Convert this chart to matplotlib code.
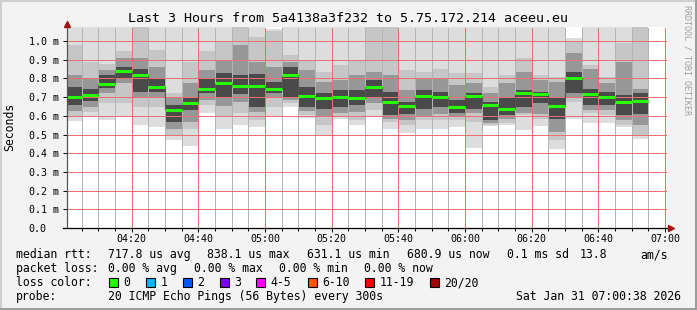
import numpy as np
import matplotlib
matplotlib.use("Agg")
import matplotlib.pyplot as plt
from matplotlib.lines import Line2D
from matplotlib.patches import Rectangle
from matplotlib.ticker import FixedLocator, MultipleLocator

plt.rcParams["lines.scale_dashes"] = False

MONO = "DejaVu Sans Mono"
W, H = 697, 310

# ---- data (ms) -------------------------------------------------------------
# one sample every 300s, minutes after 04:00 (04:00 .. 06:55)
sample_min = np.arange(0, 175, 5)
window = (38 / 60, 180 + 38 / 60)  # 04:00:38 .. 07:00:38

median = [0.700, 0.711, 0.771, 0.838, 0.818, 0.753, 0.631, 0.671, 0.744, 0.773,
          0.759, 0.762, 0.744, 0.818, 0.707, 0.695, 0.700, 0.695, 0.753, 0.673,
          0.655, 0.707, 0.700, 0.646, 0.705, 0.657, 0.639, 0.723, 0.718, 0.653,
          0.804, 0.718, 0.700, 0.673, 0.681]

# smoke bands, outer (1) to inner (4): upper and lower edges
hi1 = [1.10, 1.10, 1.10, 1.10, 1.10, 1.10, 1.10, 1.10, 1.10, 1.10,
       1.10, 1.10, 1.065, 1.10, 1.10, 1.10, 1.10, 1.10, 1.10, 1.10,
       1.10, 1.10, 1.10, 1.10, 1.10, 1.10, 1.10, 1.10, 1.10, 1.10,
       1.015, 1.10, 1.10, 1.10, 1.10]
hi2 = [0.980, 0.890, 0.875, 0.946, 1.090, 0.952, 0.720, 0.889, 0.946, 1.000,
       1.100, 1.020, 1.055, 0.925, 0.898, 0.836, 0.871, 0.898, 1.100, 1.100,
       0.845, 0.836, 0.853, 0.827, 0.827, 0.755, 0.818, 0.907, 0.818, 0.809,
       1.000, 0.871, 0.809, 0.987, 1.100]
hi3 = [0.820, 0.800, 0.845, 0.907, 0.907, 0.862, 0.693, 0.773, 0.845, 0.893,
       0.980, 0.889, 0.862, 0.889, 0.845, 0.782, 0.791, 0.818, 0.836, 0.818,
       0.737, 0.800, 0.800, 0.764, 0.773, 0.720, 0.773, 0.836, 0.791, 0.782,
       0.934, 0.853, 0.773, 0.889, 0.746]
hi4 = [0.755, 0.746, 0.818, 0.862, 0.853, 0.800, 0.657, 0.700, 0.800, 0.830,
       0.820, 0.822, 0.782, 0.862, 0.755, 0.720, 0.737, 0.737, 0.791, 0.728,
       0.675, 0.737, 0.728, 0.684, 0.720, 0.675, 0.700, 0.737, 0.728, 0.693,
       0.836, 0.746, 0.728, 0.710, 0.720]
lo4 = [0.657, 0.678, 0.750, 0.800, 0.728, 0.728, 0.567, 0.630, 0.720, 0.696,
       0.716, 0.648, 0.720, 0.700, 0.648, 0.639, 0.648, 0.657, 0.700, 0.603,
       0.612, 0.639, 0.648, 0.617, 0.639, 0.576, 0.603, 0.648, 0.666, 0.585,
       0.720, 0.657, 0.657, 0.603, 0.612]
lo3 = [0.625, 0.648, 0.720, 0.773, 0.700, 0.700, 0.532, 0.567, 0.684, 0.650,
       0.672, 0.620, 0.700, 0.684, 0.625, 0.594, 0.617, 0.621, 0.666, 0.585,
       0.576, 0.594, 0.612, 0.600, 0.617, 0.564, 0.582, 0.617, 0.612, 0.514,
       0.700, 0.630, 0.630, 0.576, 0.550]
lo2 = [0.594, 0.618, 0.666, 0.666, 0.648, 0.648, 0.492, 0.532, 0.657, 0.598,
       0.615, 0.576, 0.648, 0.670, 0.607, 0.550, 0.600, 0.576, 0.630, 0.567,
       0.550, 0.576, 0.576, 0.576, 0.567, 0.550, 0.564, 0.603, 0.585, 0.469,
       0.675, 0.617, 0.603, 0.550, 0.500]
lo1 = [0.571, 0.594, 0.576, 0.600, 0.553, 0.540, 0.468, 0.440, 0.617, 0.530,
       0.550, 0.540, 0.594, 0.648, 0.589, 0.496, 0.585, 0.550, 0.600, 0.528,
       0.507, 0.528, 0.530, 0.540, 0.428, 0.545, 0.550, 0.523, 0.545, 0.422,
       0.585, 0.560, 0.560, 0.540, 0.475]

x_ticks = [20, 40, 60, 80, 100, 120, 140, 160, 180]
x_labels = ["04:20", "04:40", "05:00", "05:20", "05:40", "06:00", "06:20", "06:40", "07:00"]
y_ticks = [0.0, 0.1, 0.2, 0.3, 0.4, 0.5, 0.6, 0.7, 0.8, 0.9, 1.0]
y_labels = ["0.0", "0.1 m", "0.2 m", "0.3 m", "0.4 m", "0.5 m", "0.6 m",
            "0.7 m", "0.8 m", "0.9 m", "1.0 m"]

loss_names = ["0", "1", "2", "3", "4-5", "6-10", "11-19", "20/20"]
loss_colors = ["#26ff00", "#00b8ff", "#0059ff", "#7e00ff", "#ff00ff",
               "#ff5500", "#ff0000", "#a00000"]

# ---- figure ----------------------------------------------------------------
def fx(x):
    return x / W


def fy(y):
    return 1 - y / H


fig = plt.figure(figsize=(W / 100, H / 100), dpi=100, facecolor="#f3f3f3")
ax = fig.add_axes([fx(67), fy(228), 600 / W, 201 / H])
ax.set_facecolor("white")
ax.set_xlim(*window)
ax.set_ylim(0, 1.075)

# smoke
band_colors = ["#dddddd", "#c6c6c6", "#979797", "#4a4a4a"]
for lo, hi, c in zip([lo1, lo2, lo3, lo4], [hi1, hi2, hi3, hi4], band_colors):
    lo = np.array(lo)
    hi = np.array(hi)
    ax.bar(sample_min, hi - lo, bottom=lo, width=5, align="edge",
           color=c, linewidth=0, zorder=1)

# median: green steps + dotted black connectors
med = np.array(median)
ax.vlines(sample_min[1:], med[:-1], med[1:], colors="black",
          linestyles=(0, (0.72, 0.72)), linewidth=0.8, zorder=3)
ax.hlines(med, sample_min, sample_min + 5, colors="#26ff00", linewidth=2.2, zorder=4)

# grid (1px dots, drawn above the smoke like rrdtool does)
dots = (0, (0.72, 0.72))
ax.set_axisbelow(False)
ax.xaxis.set_major_locator(FixedLocator(x_ticks))
ax.xaxis.set_minor_locator(MultipleLocator(5))
ax.yaxis.set_major_locator(FixedLocator(y_ticks))
ax.grid(which="major", color="#e87070", linestyle=dots, linewidth=0.72,
        antialiased=False)
ax.grid(which="minor", axis="x", color="#b4b4b4", linestyle=dots,
        linewidth=0.72, antialiased=False)

ax.set_xticklabels(x_labels, family=MONO, fontsize=7.2)
ax.set_yticklabels(y_labels, family=MONO, fontsize=7.2)
for lbl in ax.get_yticklabels():
    lbl.set_horizontalalignment("left")
ax.tick_params(axis="y", which="major", length=3, width=0.7,
               pad=(67 - 30 - 3) * 0.72, colors="black")
ax.tick_params(axis="x", which="major", length=3, width=0.7, pad=1.6)
ax.tick_params(axis="x", which="minor", length=2, width=0.7)

for s in ax.spines.values():
    s.set_visible(False)

# axes with arrows
ax.plot([0, 0], [0, 1.005], transform=ax.transAxes, color="#555555",
        linewidth=0.9, clip_on=False, zorder=5)
ax.plot([-0.007, 1.0], [0, 0], transform=ax.transAxes, color="black",
        linewidth=0.9, clip_on=False, zorder=5)
ax.plot([0], [1.015], marker="^", markersize=4, color="#a01010",
        transform=ax.transAxes, clip_on=False, zorder=6)
ax.plot([1.006], [0], marker=">", markersize=4, color="#a01010",
        transform=ax.transAxes, clip_on=False, zorder=6)

# titles
fig.text(0.5, fy(19), "Last 3 Hours from 5a4138a3f232 to 5.75.172.214 aceeu.eu",
         ha="center", va="center", family=MONO, fontsize=9.6)
fig.text(fx(10), fy(127), "Seconds", rotation=90, ha="center", va="center",
         family=MONO, fontsize=8.3)
fig.text(fx(687), fy(60), "RRDTOOL / TOBI OETIKER", rotation=270, ha="center",
         va="center", family=MONO, fontsize=6, color="#a0a0a0")

# legend
LS = 8.3
rows = {
    254.7: [(16, "median rtt:"), (107.6, "717.8 us avg"), (207, "838.1 us max"),
            (307, "631.1 us min"), (407, "680.9 us now"), (506.7, "0.1 ms sd"),
            (580, "13.8"), (640, "am/s")],
    268.3: [(16, "packet loss:"), (107.6, "0.00 % avg"), (194, "0.00 % max"),
            (279, "0.00 % min"), (364, "0.00 % now")],
    282.7: [(16, "loss color:")],
    296.7: [(16, "probe:"), (107.6, "20 ICMP Echo Pings (56 Bytes) every 300s")],
}
for y, items in rows.items():
    for x, t in items:
        fig.text(fx(x), fy(y), t, ha="left", va="center", family=MONO, fontsize=LS)
fig.text(fx(681), fy(296.7), "Sat Jan 31 07:00:38 2026", ha="right", va="center",
         family=MONO, fontsize=LS)

box_x = [109, 146, 183, 220, 256, 307.5, 365, 430]
for bx, name, col in zip(box_x, loss_names, loss_colors):
    fig.add_artist(Rectangle((fx(bx), fy(287)), 9 / W, 9 / H, transform=fig.transFigure,
                             facecolor=col, edgecolor="black", linewidth=0.8))
    fig.text(fx(bx + 14.5), fy(282.7), name, ha="left", va="center",
             family=MONO, fontsize=LS)

# frame shading
fig.add_artist(Line2D([0, 1], [fy(0.75)] * 2, color="#cfcfcf", linewidth=1.5))
fig.add_artist(Line2D([fx(0.75)] * 2, [0, 1], color="#cfcfcf", linewidth=1.5))
fig.add_artist(Line2D([0, 1], [fy(H - 0.75)] * 2, color="#9e9e9e", linewidth=1.5))
fig.add_artist(Line2D([fx(W - 0.75)] * 2, [0, 1], color="#9e9e9e", linewidth=1.5))

fig.savefig("out.png", dpi=100, facecolor=fig.get_facecolor())
